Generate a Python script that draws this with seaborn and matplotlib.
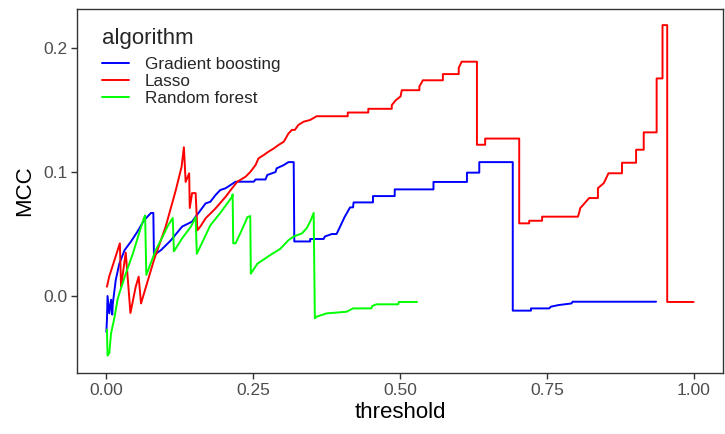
import matplotlib
matplotlib.use('Agg')
from matplotlib import pyplot as plt
import seaborn as sns
import pandas as pd

# Gradient boosting
gb_t = [0.000, 0.001, 0.002, 0.005, 0.008, 0.010, 0.011, 0.016, 0.022, 0.031,
        0.042, 0.053, 0.064, 0.076, 0.080, 0.081, 0.093, 0.110, 0.129, 0.146,
        0.152, 0.160, 0.169, 0.177, 0.186, 0.194, 0.203, 0.220, 0.251, 0.254,
        0.271, 0.274, 0.288, 0.290, 0.302, 0.310, 0.319, 0.320, 0.347, 0.347,
        0.370, 0.372, 0.384, 0.392, 0.398, 0.406, 0.415, 0.420, 0.421, 0.454,
        0.454, 0.491, 0.491, 0.557, 0.557, 0.614, 0.614, 0.635, 0.635, 0.692,
        0.692, 0.723, 0.723, 0.754, 0.757, 0.770, 0.792, 0.794, 0.936]
gb_mcc = [-0.029, -0.019, 0.000, -0.014, -0.003, -0.015, -0.006, 0.013, 0.026, 0.037,
          0.044, 0.052, 0.061, 0.067, 0.067, 0.033, 0.037, 0.045, 0.056, 0.060,
          0.064, 0.069, 0.0747, 0.076, 0.0815, 0.0855, 0.0869, 0.0922, 0.0922, 0.094,
          0.094, 0.0976, 0.100, 0.103, 0.1056, 0.108, 0.108, 0.044, 0.044, 0.046,
          0.046, 0.048, 0.050, 0.050, 0.056, 0.064, 0.0715, 0.0715, 0.0755, 0.0755,
          0.0806, 0.0806, 0.086, 0.086, 0.092, 0.092, 0.0995, 0.0995, 0.108, 0.108,
          -0.0118, -0.0118, -0.010, -0.010, -0.0086, -0.0073, -0.006, -0.0046, -0.0046]

# Lasso
lasso_t = [0.001, 0.005, 0.023, 0.025, 0.033, 0.041, 0.050, 0.055, 0.059, 0.081,
           0.101, 0.118, 0.128, 0.132, 0.135, 0.141, 0.142, 0.146, 0.152, 0.155,
           0.160, 0.169, 0.186, 0.203, 0.214, 0.223, 0.237, 0.245, 0.254, 0.259,
           0.268, 0.276, 0.285, 0.293, 0.302, 0.310, 0.316, 0.321, 0.327, 0.336,
           0.347, 0.358, 0.411, 0.411, 0.446, 0.446, 0.486, 0.486, 0.493, 0.501,
           0.503, 0.533, 0.533, 0.539, 0.573, 0.573, 0.600, 0.600, 0.605, 0.631,
           0.631, 0.645, 0.645, 0.703, 0.703, 0.720, 0.720, 0.742, 0.742, 0.803,
           0.805, 0.807, 0.811, 0.822, 0.837, 0.837, 0.847, 0.855, 0.878, 0.878,
           0.902, 0.902, 0.915, 0.915, 0.937, 0.937, 0.947, 0.947, 0.955, 0.955,
           1.000]
lasso_mcc = [0.0075, 0.016, 0.0425, 0.0075, 0.035, -0.0137, 0.0075, 0.0156, -0.006, 0.029,
             0.056, 0.085, 0.104, 0.120, 0.092, 0.099, 0.071, 0.083, 0.083, 0.053,
             0.056, 0.0627, 0.0707, 0.080, 0.0869, 0.0922, 0.0962, 0.100, 0.1056, 0.111,
             0.1137, 0.1164, 0.119, 0.1218, 0.1244, 0.131, 0.134, 0.134, 0.138, 0.1406,
             0.142, 0.145, 0.145, 0.148, 0.148, 0.151, 0.151, 0.154, 0.158, 0.161,
             0.166, 0.166, 0.169, 0.174, 0.174, 0.179, 0.179, 0.184, 0.189, 0.189,
             0.122, 0.122, 0.127, 0.127, 0.0586, 0.0586, 0.0607, 0.0607, 0.064, 0.064,
             0.067, 0.071, 0.073, 0.079, 0.079, 0.087, 0.091, 0.099, 0.099, 0.1075,
             0.1075, 0.118, 0.118, 0.132, 0.132, 0.1755, 0.1755, 0.2185, 0.2185, -0.0048,
             -0.0048]

# Random forest
rf_t = [0.001, 0.002, 0.005, 0.008, 0.014, 0.019, 0.022, 0.033, 0.045, 0.056,
        0.064, 0.066, 0.068, 0.084, 0.096, 0.104, 0.113, 0.115, 0.129, 0.144,
        0.152, 0.154, 0.160, 0.177, 0.194, 0.214, 0.215, 0.216, 0.220, 0.228,
        0.237, 0.240, 0.245, 0.246, 0.257, 0.279, 0.296, 0.310, 0.319, 0.333,
        0.341, 0.347, 0.353, 0.355, 0.358, 0.375, 0.409, 0.420, 0.451, 0.453,
        0.460, 0.497, 0.498, 0.529]
rf_mcc = [-0.027, -0.048, -0.046, -0.030, -0.017, -0.003, 0.002, 0.018, 0.034, 0.051,
          0.063, 0.065, 0.017, 0.037, 0.048, 0.056, 0.063, 0.036, 0.0465, 0.056,
          0.0635, 0.034, 0.040, 0.057, 0.067, 0.080, 0.082, 0.0425, 0.0425, 0.0505,
          0.060, 0.0635, 0.0645, 0.018, 0.026, 0.033, 0.038, 0.045, 0.048, 0.0505,
          0.0546, 0.060, 0.067, -0.018, -0.0167, -0.014, -0.0127, -0.010, -0.010, -0.008,
          -0.0067, -0.0067, -0.0048, -0.0048]

algorithms = ['Gradient boosting', 'Lasso', 'Random forest']
colors = ['#0000FF', '#FF0000', '#00FF00']

df = pd.concat([
    pd.DataFrame({'threshold': gb_t, 'MCC': gb_mcc, 'algorithm': algorithms[0]}),
    pd.DataFrame({'threshold': lasso_t, 'MCC': lasso_mcc, 'algorithm': algorithms[1]}),
    pd.DataFrame({'threshold': rf_t, 'MCC': rf_mcc, 'algorithm': algorithms[2]}),
], ignore_index=True)

sns.set_style('white')
plt.rcParams['font.family'] = ['Liberation Sans', 'DejaVu Sans']

fig = plt.figure(figsize=(7.25, 4.34), dpi=100)
ax = fig.add_axes([77 / 725, 1 - 373 / 434, 646 / 725, 364 / 434])

sns.lineplot(data=df, x='threshold', y='MCC', hue='algorithm', hue_order=algorithms,
             palette=colors, sort=False, estimator=None, linewidth=1.4, ax=ax)

ax.set_xlim(-0.05, 1.05)
ax.set_ylim(-0.0621, 0.2315)
ax.set_xticks([0.0, 0.25, 0.5, 0.75, 1.0])
ax.set_xticklabels(['0.00', '0.25', '0.50', '0.75', '1.00'])
ax.set_yticks([0.0, 0.1, 0.2])
ax.set_yticklabels(['0.0', '0.1', '0.2'])
ax.tick_params(axis='both', colors='#333333', labelcolor='#4D4D4D', labelsize=12.5,
               length=4, width=1, direction='out', left=True, bottom=True, pad=3)
ax.set_xlabel('threshold', fontsize=16, color='black', labelpad=3)
ax.set_ylabel('MCC', fontsize=16, color='black', labelpad=6)
for s in ax.spines.values():
    s.set_color('#333333')
    s.set_linewidth(1)

handles, labels = ax.get_legend_handles_labels()
leg = ax.legend(handles, labels, title='algorithm', loc='upper left',
                bbox_to_anchor=(0.02, 0.98), frameon=False, fontsize=12.3,
                title_fontsize=16, handlelength=1.6, handletextpad=0.9,
                labelspacing=0.12, alignment='left', borderaxespad=0.3)
# extra room between the legend title and its entries
leg._legend_box.sep = 5.8
for h in leg.get_lines():
    h.set_linewidth(1.4)

fig.savefig('out.png', dpi=100)
